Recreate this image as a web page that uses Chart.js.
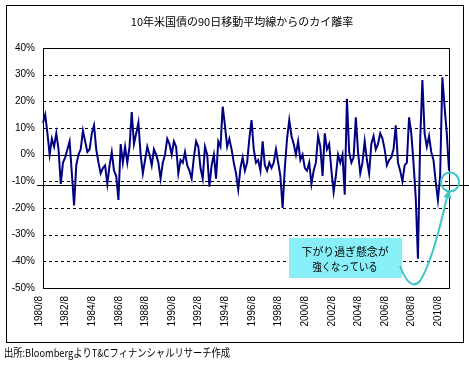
<!DOCTYPE html>
<html>
<head>
<meta charset="utf-8">
<script src="https://cdn.jsdelivr.net/npm/chart.js@4"></script>
<style>
  body { margin: 0; background: #fff; }
</style>
</head>
<body>
<canvas id="chart" width="469" height="367"></canvas>
<script>
const chartTitle = '10年米国債の90日移動平均線からのカイ離率';
const sourceNote = '出所:BloombergよりT&Cフィナンシャルリサーチ作成';
const calloutLines = ['下がり過ぎ懸念が', '強くなっている'];

// 1980/8 から2ヶ月ごとの乖離率(%)
const startYear = 1980, startMonth = 8, stepMonths = 2;
const deviation = [
  12, 15, 8, 0, 6, 3, 8, 2, -11, -3, -1, 2, 5, -7, -19, -4, 0, 2, 9, 5,
  1, 2, 8, 11, 2, -3, -7, -5, -4, -11, -4, 1,
  -6, -8, -17, 4, -3, 3, -3, 3, 16, 4, 8, 12, 0, -7, -2, 3, 0, -4, 2, 0,
  -3, -9, -3, 0, 6, 4, 0, 5, 3, -7,
  -2, -3, 1, -4, -6, -9, -1, 5, 3, -5, -9, 3, 0, -12, -4, 0, -9, 5, 3, 18,
  11, 3, 6, 2, -3, -7, -13, -5, -1, -6, -3,
  6, 13, 2, -3, -2, -6, 5, -4, -6, -3, -5, -3, 2, -3, -8, -20, -5, 6, 13, 7,
  4, 0, 5, -2, 0, -5, -6, -3, -11, -6,
  -3, 7, 3, -8, 8, 2, 4, -6, -14, -8, 0, -3, 0, -15, 21, 1, -3, -1, 14, 1,
  -7, -3, 5, -2, -7, 4, 7, 2, 4, 8, 6,
  2, -4, -2, -1, 2, 11, -3, -6, -10, -4, -3, 14, 8, -3, -16, -39, 5, 28, 8, 3,
  7, 1, -2, -10, -17, -8, 29, 18, 8, -6
];
const tickLabels = ['1980/8', '1982/8', '1984/8', '1986/8', '1988/8', '1990/8', '1992/8', '1994/8',
  '1996/8', '1998/8', '2000/8', '2002/8', '2004/8', '2006/8', '2008/8', '2010/8'];
const yTicks = [40, 30, 20, 10, 0, -10, -20, -30, -40, -50];
const alertLevel = -11.5;

const periods = deviation.map((v, i) => {
  const m = startMonth - 1 + i * stepMonths;
  return (startYear + Math.floor(m / 12)) + '/' + (m % 12 + 1);
});

const decor = {
  id: 'decor',
  beforeDatasetsDraw(chart) {
    const { ctx, chartArea: a, scales: { y } } = chart;
    ctx.save();
    ctx.strokeStyle = '#000';
    ctx.lineWidth = 1;
    yTicks.forEach(v => {
      if (v === 40 || v === -50) return;
      const py = Math.round(y.getPixelForValue(v)) + 0.5;
      ctx.setLineDash(v === 0 ? [] : [3, 3]);
      ctx.beginPath();
      ctx.moveTo(a.left, py);
      ctx.lineTo(a.right, py);
      ctx.stroke();
    });
    ctx.setLineDash([]);
    ctx.strokeRect(Math.round(a.left) + 0.5, Math.round(a.top) + 0.5, Math.round(a.right - a.left), Math.round(a.bottom - a.top));
    ctx.restore();
  },
  afterDatasetsDraw(chart) {
    const { ctx, scales: { y } } = chart;
    ctx.save();
    // 警戒ライン
    const py = Math.round(y.getPixelForValue(alertLevel)) + 0.5;
    ctx.strokeStyle = '#000';
    ctx.lineWidth = 1;
    ctx.beginPath();
    ctx.moveTo(37, py);
    ctx.lineTo(469, py);
    ctx.stroke();

    // 外枠
    ctx.strokeRect(6.5, 5.5, 457, 337);

    // タイトル・出所
    ctx.fillStyle = '#000';
    ctx.font = '11px "Noto Sans CJK JP"';
    ctx.textAlign = 'center';
    ctx.textBaseline = 'middle';
    ctx.fillText(chartTitle, 242, 22, 224);
    ctx.textAlign = 'left';
    ctx.fillText(sourceNote, 4, 353, 226);

    // 吹き出し
    ctx.fillStyle = '#88eff8';
    ctx.fillRect(289, 238, 113, 40);
    ctx.fillStyle = '#000';
    ctx.textAlign = 'center';
    ctx.fillText(calloutLines[0], 345, 252, 87);
    ctx.fillText(calloutLines[1], 345, 267, 65);

    // 矢印と丸
    ctx.strokeStyle = '#3fc6c8';
    ctx.lineWidth = 2;
    ctx.beginPath();
    ctx.moveTo(400, 266);
    ctx.bezierCurveTo(406, 282, 413, 289, 420, 281);
    ctx.bezierCurveTo(430, 266, 440, 228, 447, 197);
    ctx.stroke();
    ctx.fillStyle = '#3fc6c8';
    ctx.beginPath();
    ctx.moveTo(449, 190);
    ctx.lineTo(451.5, 199);
    ctx.lineTo(443.5, 197);
    ctx.closePath();
    ctx.fill();
    ctx.beginPath();
    ctx.ellipse(450, 182, 9, 9.5, 0, 0, Math.PI * 2);
    ctx.stroke();
    ctx.restore();
  }
};

new Chart(document.getElementById('chart'), {
  type: 'line',
  data: {
    labels: periods,
    datasets: [{
      data: deviation,
      borderColor: '#000080',
      borderWidth: 2,
      pointRadius: 0,
      tension: 0,
      fill: false
    }]
  },
  options: {
    responsive: false,
    animation: false,
    layout: { padding: { top: 48, right: 18, left: 0, bottom: 0 } },
    plugins: { legend: { display: false }, tooltip: { enabled: false } },
    scales: {
      x: {
        grid: { display: false, drawTicks: false },
        border: { display: false },
        ticks: {
          autoSkip: false,
          minRotation: 90,
          maxRotation: 90,
          padding: 8,
          labelOffset: -4,
          color: '#000',
          font: { family: 'Liberation Sans', size: 10 },
          callback: function (val) {
            const lbl = this.getLabelForValue(val);
            return tickLabels.includes(lbl) ? lbl : '';
          }
        },
        afterFit: s => { s.height = 79; }
      },
      y: {
        min: -50,
        max: 40,
        grid: { display: false, drawTicks: false },
        border: { display: false },
        ticks: {
          stepSize: 10,
          padding: 8,
          color: '#000',
          font: { family: 'Liberation Sans', size: 10 },
          callback: v => v + '%'
        },
        afterFit: s => { s.width = 43; }
      }
    }
  },
  plugins: [decor]
});
</script>
</body>
</html>
